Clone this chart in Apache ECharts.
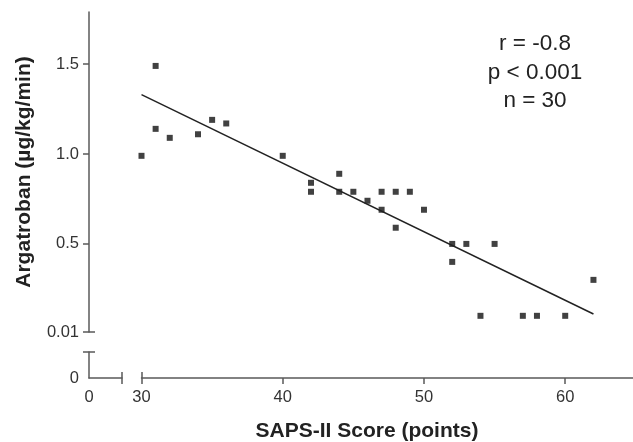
<!DOCTYPE html>
<html>
<head>
<meta charset="utf-8">
<script src="https://cdn.jsdelivr.net/npm/echarts@6/dist/echarts.min.js"></script>
<style>html,body{margin:0;padding:0;background:#fff}#c{width:633px;height:442px}</style>
</head>
<body>
<div id="c"></div>
<script>
// ---- data ----
const saps = [30,31,31,32,34,35,36,40,42,42,44,44,45,46,47,47,48,48,49,50,52,52,53,54,55,57,58,60,62];
const argatroban = [0.99,1.49,1.14,1.09,1.11,1.19,1.17,0.99,0.84,0.79,0.89,0.79,0.79,0.74,0.79,0.69,0.79,0.59,0.79,0.69,0.50,0.40,0.50,0.10,0.50,0.10,0.10,0.10,0.30];
const fitX = [30, 62];
const fitY = [1.33, 0.11];
const xTicks = [30, 40, 50, 60];
const yTicks = [0.01, 0.5, 1.0, 1.5];
const yTickLabels = ['0.01', '0.5', '1.0', '1.5'];
const statsLines = ['r = -0.8', 'p < 0.001', 'n = 30'];
const xTitle = 'SAPS-II Score (points)';
const yTitle = 'Argatroban (µg/kg/min)';

// ---- chart ----
const FONT = '"Liberation Sans", Arial, sans-serif';
const axisColor = '#5a5a5a';
const lineStyle = {color: axisColor, width: 1.5};
const labelStyle = {fontSize: 16.5, color: '#333', fontFamily: FONT};

const chart = echarts.init(document.getElementById('c'), null, {renderer: 'canvas'});
const points = saps.map((x, i) => [x, argatroban[i]]);
const fitLine = fitX.map((x, i) => [x, fitY[i]]);

const hiddenParts = {
  axisLine: {show: false}, axisLabel: {show: false}, splitLine: {show: false}
};

chart.setOption({
  animation: false,
  backgroundColor: '#fff',
  title: [
    {text: statsLines.join('\n'), left: 530, top: 25, textAlign: 'center',
     textStyle: {fontSize: 22.5, fontWeight: 'normal', color: '#222', lineHeight: 28.5, fontFamily: FONT}},
    {text: xTitle, left: 362, top: 416, textAlign: 'center',
     textStyle: {fontSize: 21, fontWeight: 'bold', color: '#222', fontFamily: FONT}}
  ],
  grid: [
    {left: 141.5, right: 0, top: 12, bottom: 110},
    {left: 89, width: 33, top: 352, bottom: 64},
    {left: 141.5, right: 0, top: 352, bottom: 64}
  ],
  xAxis: [
    {gridIndex: 0, type: 'value', min: 30, max: 64.8, show: false},
    {gridIndex: 1, type: 'value', min: 0, max: 1, position: 'bottom',
     axisLine: {show: true, onZero: false, lineStyle},
     axisTick: {show: true, customValues: [1], length: 6, lineStyle},
     axisLabel: {customValues: [0], formatter: v => String(v), margin: 11, ...labelStyle},
     splitLine: {show: false}},
    {gridIndex: 1, type: 'value', min: 0, max: 1, position: 'bottom', ...hiddenParts,
     axisTick: {show: true, inside: true, customValues: [1], length: 6, lineStyle}},
    {gridIndex: 2, type: 'value', min: 30, max: 64.8, position: 'bottom',
     axisLine: {show: true, onZero: false, lineStyle},
     axisTick: {show: true, customValues: xTicks, length: 6, lineStyle},
     axisLabel: {customValues: xTicks, margin: 11, ...labelStyle},
     splitLine: {show: false}},
    {gridIndex: 2, type: 'value', min: 30, max: 64.8, position: 'bottom', ...hiddenParts,
     axisTick: {show: true, inside: true, customValues: [xTicks[0]], length: 6, lineStyle}}
  ],
  yAxis: [
    {gridIndex: 0, type: 'value', min: 0.01, max: 1.79, position: 'left', offset: 52.5,
     name: yTitle, nameLocation: 'middle', nameGap: 54,
     nameTextStyle: {fontSize: 21, fontWeight: 'bold', color: '#222', fontFamily: FONT},
     axisLine: {show: true, onZero: false, lineStyle},
     axisTick: {show: true, customValues: yTicks, length: 6, lineStyle},
     axisLabel: {customValues: yTicks, formatter: v => yTickLabels[yTicks.indexOf(v)] ?? String(v), margin: 10, ...labelStyle},
     splitLine: {show: false}},
    {gridIndex: 0, type: 'value', min: 0.01, max: 1.79, position: 'left', offset: 52.5, ...hiddenParts,
     axisTick: {show: true, inside: true, customValues: [yTicks[0]], length: 6, lineStyle}},
    {gridIndex: 1, type: 'value', min: 0, max: 1, position: 'left',
     axisLine: {show: true, onZero: false, lineStyle},
     axisTick: {show: true, customValues: [1], length: 6, lineStyle},
     axisLabel: {customValues: [0], formatter: v => String(v), margin: 10, ...labelStyle},
     splitLine: {show: false}},
    {gridIndex: 1, type: 'value', min: 0, max: 1, position: 'left', ...hiddenParts,
     axisTick: {show: true, inside: true, customValues: [1], length: 6, lineStyle}},
    {gridIndex: 2, type: 'value', min: 0, max: 1, show: false}
  ],
  series: [
    {type: 'line', xAxisIndex: 0, yAxisIndex: 0, data: fitLine, symbol: 'none',
     lineStyle: {color: '#222', width: 1.5}, silent: true},
    {type: 'scatter', xAxisIndex: 0, yAxisIndex: 0, data: points, symbol: 'rect', symbolSize: 6,
     itemStyle: {color: '#111'}}
  ]
});
</script>
</body>
</html>
